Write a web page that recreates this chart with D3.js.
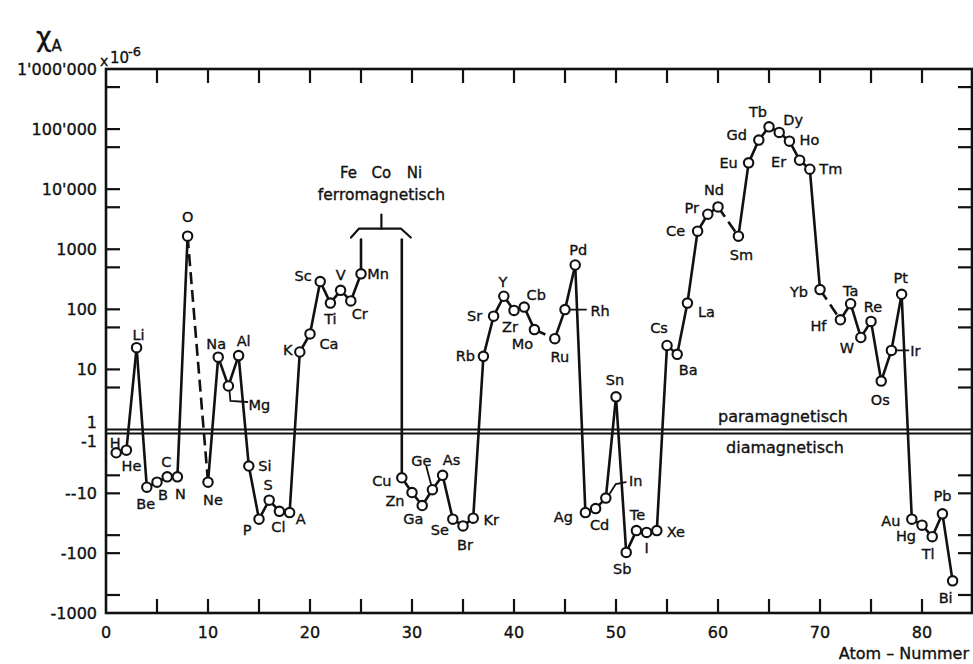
<!DOCTYPE html>
<html>
<head>
<meta charset="utf-8">
<script src="https://cdn.jsdelivr.net/npm/d3@7"></script>
<style>
  body { margin: 0; background: #fff; }
  svg text { font-family: "DejaVu Sans", sans-serif; fill: #111; stroke: #111; stroke-width: 0.35px; }
</style>
</head>
<body>
<svg id="chart"></svg>
<script>
// atomic number, symbol, molar susceptibility (x 10^-6)
const atomicNumbers = [
  1, 2, 3, 4, 5, 6, 7, 8, 10, 11, 12, 13, 14, 15, 16, 17, 18, 19, 20, 21, 22, 23, 24, 25,
  29, 30, 31, 32, 33, 34, 35, 36, 37, 38, 39, 40, 41, 42, 44, 45, 46, 47, 48, 49, 50,
  51, 52, 53, 54, 55, 56, 57, 58, 59, 60, 62, 63, 64, 65, 66, 67, 68, 69, 70,
  72, 73, 74, 75, 76, 77, 78, 79, 80, 81, 82, 83
];
const symbols = [
  "H", "He", "Li", "Be", "B", "C", "N", "O", "Ne", "Na", "Mg", "Al", "Si", "P", "S", "Cl", "A", "K", "Ca", "Sc", "Ti", "V", "Cr", "Mn",
  "Cu", "Zn", "Ga", "Ge", "As", "Se", "Br", "Kr", "Rb", "Sr", "Y", "Zr", "Cb", "Mo", "Ru", "Rh", "Pd", "Ag", "Cd", "In", "Sn",
  "Sb", "Te", "I", "Xe", "Cs", "Ba", "La", "Ce", "Pr", "Nd", "Sm", "Eu", "Gd", "Tb", "Dy", "Ho", "Er", "Tm", "Yb",
  "Hf", "Ta", "W", "Re", "Os", "Ir", "Pt", "Au", "Hg", "Tl", "Pb", "Bi"
];
const chi = [
  -2.1, -1.9, 23, -7.9, -6.5, -5.3, -5.3, 1650, -6.5, 16, 5.3, 17, -3.5, -27, -13, -20, -21, 19.5, 39, 290, 127, 207, 138, 390,
  -5.5, -9.7, -16, -8.7, -5, -27, -35, -26, 16.5, 77, 165, 96, 109, 46, 32.5, 99, 547, -21, -18, -12, 3.5,
  -97, -42, -45, -42, 25, 17.8, 127, 2000, 3830, 5070, 1650, 27400, 65600, 109000, 88000, 63000, 30400, 21500, 213,
  67, 124, 34, 63, 6.4, 20.7, 178, -27, -34, -53, -22, -290
];

// ferromagnetic Fe Co Ni: lines leave the plot upward
const ferroGap = ["Mn", "Cu"];
const ferroCap = 1450;
const ferroNames = ["Fe", "Co", "Ni"];

const xTicks = [0, 10, 20, 30, 40, 50, 60, 70, 80];
const xMinorTicks = d3.range(5, 85, 5);
const yPosTicks = [5, 10, 50, 100, 500, 1000, 5000, 10000, 50000, 100000, 500000];
const yNegTicks = [5, 10, 50, 100, 500];
const yPosLabels = [[1e6, "1'000'000"], [1e5, "100'000"], [1e4, "10'000"], [1000, "1000"], [100, "100"], [10, "10"], [1, "1"]];
const yNegLabels = [[1, "-1"], [10, "--10"], [100, "-100"], [1000, "-1000"]];

// label placement relative to each point [dx, dy], leaders for a few
const labelPos = {
  H: [-1, -10], He: [5, 16], Li: [2, -13], Be: [-1, 17], B: [6, 13], C: [-1, -15], N: [3, 17], O: [0, -19],
  Ne: [5, 18], Na: [-2, -13], Mg: [31, 19], Al: [5, -15], Si: [16, 0], P: [-12, 11], S: [-1, -15], Cl: [-1, 16],
  A: [11, 6], K: [-12, -2], Ca: [19, 10], Sc: [-17, -6], Ti: [0, 16], V: [0, -15], Cr: [9, 13], Mn: [17, 0],
  Cu: [-20, 3], Zn: [-17, 8], Ga: [-9, 13], Ge: [-11, -29], As: [9, -15], Se: [-13, 11], Br: [2, 19], Kr: [18, 2],
  Rb: [-18, 0], Sr: [-19, 0], Y: [-1, -14], Zr: [-4, 17], Cb: [12, -12], Mo: [-12, 14], Ru: [5, 18], Rh: [35, 1],
  Pd: [3, -15], Ag: [-22, 4], Cd: [4, 16], In: [30, -17], Sn: [-1, -17], Sb: [-4, 17], Te: [1, -16], I: [0, 16],
  Xe: [19, 1], Cs: [-8, -18], Ba: [11, 16], La: [19, 9], Ce: [-22, 0], Pr: [-16, -6], Nd: [-4, -17], Sm: [3, 19],
  Eu: [-20, 0], Gd: [-22, -5], Tb: [-11, -15], Dy: [14, -12], Ho: [20, -1], Er: [-21, 2], Tm: [21, 0], Yb: [-21, 2],
  Hf: [-22, 6], Ta: [0, -13], W: [-14, 11], Re: [2, -14], Os: [-1, 19], Ir: [24, 1], Pt: [-1, -16], Au: [-21, 2],
  Hg: [-16, 11], Tl: [-4, 17], Pb: [0, -18], Bi: [-7, 17]
};
const leaders = {
  Mg: [[1, 4], [2, 15], [19, 16]],
  Rh: [[4, 0], [21, 0]],
  In: [[3, -3], [10, -14], [20, -16]],
  Ge: [[-1, -4], [-6, -23]],
  Ir: [[4, 0], [17, 0]]
};

const width = 973, height = 664;
const plotLeft = 106, plotRight = 972, plotTop = 69, plotBottom = 613;

const svg = d3.select("#chart").attr("width", width).attr("height", height);

const x = d3.scaleLinear().domain([0, 84.9]).range([plotLeft, plotRight]);
const yPos = d3.scaleLog().domain([1, 1e6]).range([429.5, plotTop]);
const yNeg = d3.scaleLog().domain([1, 1000]).range([433.5, plotBottom]);
const y = (v) => (v > 0 ? yPos(v) : yNeg(-v));

const data = atomicNumbers.map((z, i) => ({ z: z, sym: symbols[i], v: chi[i] }));

// ------ frame and ticks ------
const frame = svg.append("g").attr("stroke", "#111").attr("stroke-width", 2.6).attr("fill", "none");
frame.append("rect")
  .attr("x", plotLeft).attr("y", plotTop)
  .attr("width", plotRight - plotLeft).attr("height", plotBottom - plotTop);

const tickLen = 14;
xMinorTicks.forEach((t) => {
  frame.append("line").attr("x1", x(t)).attr("x2", x(t)).attr("y1", plotBottom).attr("y2", plotBottom - tickLen).attr("stroke-width", 2.2);
  frame.append("line").attr("x1", x(t)).attr("x2", x(t)).attr("y1", plotTop).attr("y2", plotTop + tickLen).attr("stroke-width", 2.2);
});
const yTickPix = yPosTicks.map(yPos).concat(yNegTicks.map(yNeg));
yTickPix.forEach((py) => {
  frame.append("line").attr("x1", plotLeft).attr("x2", plotLeft + tickLen).attr("y1", py).attr("y2", py).attr("stroke-width", 2.2);
  frame.append("line").attr("x1", plotRight).attr("x2", plotRight - tickLen).attr("y1", py).attr("y2", py).attr("stroke-width", 2.2);
});

// para / dia border lines
[yPos(1), yNeg(1)].forEach((py) => {
  frame.append("line").attr("x1", plotLeft).attr("x2", plotRight).attr("y1", py).attr("y2", py).attr("stroke-width", 2);
});

// tick labels
const labels = svg.append("g").style("font-size", "16px");
labels.selectAll(".xl")
  .data(xTicks)
  .join("text")
  .attr("x", (d) => x(d))
  .attr("y", 632)
  .attr("text-anchor", "middle")
  .attr("dominant-baseline", "central")
  .text((d) => d);

labels.selectAll(".yp")
  .data(yPosLabels)
  .join("text")
  .attr("x", 97)
  .attr("y", (d) => yPos(d[0]) + (d[0] === 1 ? -7 : 0))
  .attr("text-anchor", "end")
  .attr("dominant-baseline", "central")
  .text((d) => d[1]);

labels.selectAll(".yn")
  .data(yNegLabels)
  .join("text")
  .attr("x", 97)
  .attr("y", (d) => yNeg(d[0]) + (d[0] === 1 ? 8 : 0))
  .attr("text-anchor", "end")
  .attr("dominant-baseline", "central")
  .text((d) => d[1]);

// units and axis titles
svg.append("text").attr("x", 100).attr("y", 66).style("font-size", "14px").text("x");
svg.append("text").attr("x", 110).attr("y", 63).style("font-size", "15px").text("10");
svg.append("text").attr("x", 128).attr("y", 56).style("font-size", "13px").text("-6");

const title = svg.append("text").attr("x", 36).attr("y", 46).style("font-size", "27px");
title.append("tspan").text("χ");
title.append("tspan").attr("dy", 5).style("font-size", "15px").text("A");

svg.append("text")
  .attr("x", 969).attr("y", 653)
  .attr("text-anchor", "end").attr("dominant-baseline", "central")
  .style("font-size", "16px")
  .text("Atom – Nummer");

svg.append("text")
  .attr("x", 783).attr("y", 416)
  .attr("text-anchor", "middle").attr("dominant-baseline", "central")
  .style("font-size", "16px")
  .text("paramagnetisch");
svg.append("text")
  .attr("x", 785).attr("y", 447)
  .attr("text-anchor", "middle").attr("dominant-baseline", "central")
  .style("font-size", "16px")
  .text("diamagnetisch");

// ------ data line ------
const lineG = svg.append("g").attr("stroke", "#111").attr("stroke-width", 2.6).attr("fill", "none")
  .attr("stroke-linecap", "round");

const segments = d3.pairs(data).filter(([a, b]) => !(a.sym === ferroGap[0] && b.sym === ferroGap[1]));
lineG.selectAll("line.seg")
  .data(segments)
  .join("line")
  .attr("class", "seg")
  .attr("x1", (d) => x(d[0].z)).attr("y1", (d) => y(d[0].v))
  .attr("x2", (d) => x(d[1].z)).attr("y2", (d) => y(d[1].v))
  .attr("stroke-dasharray", (d) => (d[1].z - d[0].z > 1 ? "12,6" : null))
  .attr("stroke-linecap", (d) => (d[1].z - d[0].z > 1 ? "butt" : "round"));

// ferromagnetic gap: vertical lines running off the scale
const mn = data.find((d) => d.sym === ferroGap[0]);
const cu = data.find((d) => d.sym === ferroGap[1]);
[mn, cu].forEach((d) => {
  lineG.append("line")
    .attr("x1", x(d.z)).attr("x2", x(d.z))
    .attr("y1", y(d.v)).attr("y2", y(ferroCap));
});

// bracket over Fe Co Ni
const capY = y(ferroCap);
const midX = x(27);
lineG.append("path")
  .attr("stroke-width", 2.2)
  .attr("d", d3.line()([
    [x(mn.z) - 10, capY - 2], [x(mn.z) - 2, capY - 11],
    [x(cu.z) - 1, capY - 11], [x(cu.z) + 9, capY - 2]
  ]));
lineG.append("line")
  .attr("stroke-width", 2.2)
  .attr("x1", midX).attr("x2", midX)
  .attr("y1", capY - 11).attr("y2", capY - 25);

svg.append("text")
  .attr("x", midX).attr("y", 195)
  .attr("text-anchor", "middle").attr("dominant-baseline", "central")
  .style("font-size", "15.5px")
  .text("ferromagnetisch");
svg.selectAll(".ferro")
  .data(ferroNames)
  .join("text")
  .attr("class", "ferro")
  .attr("x", (d, i) => midX + (i - 1) * 33)
  .attr("y", 173)
  .attr("text-anchor", "middle").attr("dominant-baseline", "central")
  .style("font-size", "15px")
  .text((d) => d);

// leader lines for crowded labels
lineG.selectAll("path.leader")
  .data(data.filter((d) => leaders[d.sym]))
  .join("path")
  .attr("class", "leader")
  .attr("stroke-width", 1.8)
  .attr("d", (d) => d3.line()(leaders[d.sym].map((p) => [x(d.z) + p[0], y(d.v) + p[1]])));

// points
svg.append("g")
  .selectAll("circle")
  .data(data)
  .join("circle")
  .attr("cx", (d) => x(d.z))
  .attr("cy", (d) => y(d.v))
  .attr("r", 4.7)
  .attr("fill", "#fff")
  .attr("stroke", "#111")
  .attr("stroke-width", 2.1);

// element labels
svg.append("g")
  .style("font-size", "14.5px")
  .selectAll("text")
  .data(data)
  .join("text")
  .attr("x", (d) => x(d.z) + labelPos[d.sym][0])
  .attr("y", (d) => y(d.v) + labelPos[d.sym][1])
  .attr("text-anchor", "middle")
  .attr("dominant-baseline", "central")
  .text((d) => d.sym);
</script>
</body>
</html>
